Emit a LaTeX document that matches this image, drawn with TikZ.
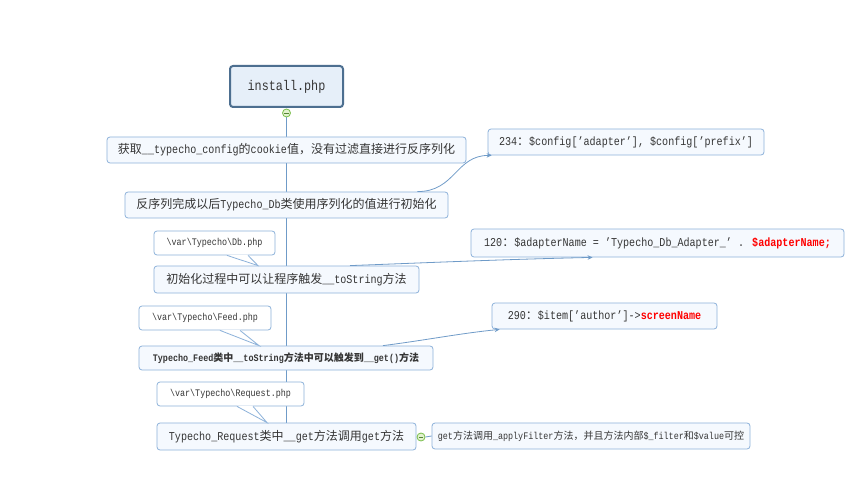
\documentclass[tikz,border=0pt]{standalone}
\usepackage{fontspec}
\setmainfont{Liberation Mono}[FakeStretch=0.84]
\newfontfamily\cjkf{Noto Sans CJK SC}
\newcommand\cj[1]{{\cjkf #1}}
\usetikzlibrary{arrows.meta,backgrounds}
\definecolor{bord}{HTML}{8DB2DA}
\definecolor{boxfill}{HTML}{F5F9FE}
\definecolor{conn}{HTML}{6F9BC8}
\definecolor{txt}{HTML}{353535}
\definecolor{topbord}{HTML}{4D6F90}
\definecolor{topfill}{HTML}{E6EFF9}
\definecolor{gbord}{HTML}{79BE4A}
\definecolor{gfill}{HTML}{E2F2CF}
\definecolor{redt}{HTML}{FF0000}
\tikzset{
  box/.style={draw=bord, fill=boxfill, rounded corners=3pt, line width=0.8pt,
    inner sep=0pt, text=txt, font=\fontsize{12}{14}\selectfont},
  topbox/.style={draw=topbord, fill=topfill, rounded corners=3pt, line width=2pt,
    inner sep=0pt, text=txt, font=\fontsize{14}{16}\selectfont},
  callbox/.style={draw=bord, fill=white, rounded corners=3pt, line width=0.8pt,
    inner sep=0pt, text=txt, font=\fontsize{10}{12}\selectfont},
  connline/.style={draw=conn, line width=0.8pt},
  arr/.style={-{Stealth[length=5pt,width=4.5pt]}},
  gcirc/.style={circle, draw=gbord, fill=gfill, line width=0.8pt, minimum size=8pt, inner sep=0pt},
  pointer/.style={draw=bord, line width=0.8pt, line join=miter},
}
\newcommand\red[1]{\textcolor{redt}{\bfseries #1}}
\begin{document}
\begin{tikzpicture}[x=1pt,y=-1pt]
\useasboundingbox (0,0) rectangle (866,494);

% nodes
\node[topbox, minimum width=113pt, minimum height=41pt] (top) at (286.5,86.5) {install.php};
\node[gcirc] (g1) at (286.5,113) {};

\node[box, minimum width=359pt, minimum height=26pt] (b1) at (286.5,150)
  {\cj{获取}\_\_typecho\_config\cj{的}cookie\cj{值，没有过滤直接进行反序列化}};
\node[box, minimum width=323pt, minimum height=26pt] (b2) at (286.5,205)
  {\cj{反序列完成以后}Typecho\_Db\cj{类使用序列化的值进行初始化}};
\node[box, minimum width=265pt, minimum height=27pt] (b3) at (286.5,279.5)
  {\cj{初始化过程中可以让程序触发}\_\_toString\cj{方法}};
\node[box, minimum width=294pt, minimum height=24pt, font=\fontsize{10}{12}\selectfont\bfseries] (b4) at (286,358)
  {Typecho\_Feed\cj{类中}\_\_toString\cj{方法中可以触发到}\_\_get()\cj{方法}};
\node[box, minimum width=259pt, minimum height=27pt] (b5) at (286.5,436.5)
  {Typecho\_Request\cj{类中}\_\_get\cj{方法调用}get\cj{方法}};

\node[box, minimum width=276pt, minimum height=26pt] (b234) at (626,142)
  {234\cj{：}\$config['adapter'], \$config['prefix']};
\node[box, minimum width=373pt, minimum height=28pt] (b120) at (657.5,243)
  {120\cj{：}\$adapterName = 'Typecho\_Db\_Adapter\_' . \red{\$adapterName;}};
\node[box, minimum width=225pt, minimum height=26pt] (b290) at (604.5,316)
  {290\cj{：}\$item['author']->\red{screenName}};
\node[box, minimum width=318pt, minimum height=26pt, font=\fontsize{10}{12}\selectfont] (b6) at (591,436)
  {get\cj{方法调用}\_applyFilter\cj{方法，并且方法内部}\$\_filter\cj{和}\$value\cj{可控}};
\node[gcirc] (g2) at (421,437) {};

\node[callbox, minimum width=121pt, minimum height=24pt] (cdb) at (214.5,243)
  {\textbackslash var\textbackslash Typecho\textbackslash Db.php};
\node[callbox, minimum width=132pt, minimum height=24pt] (cfeed) at (205,318)
  {\textbackslash var\textbackslash Typecho\textbackslash Feed.php};
\node[callbox, minimum width=147pt, minimum height=24pt] (creq) at (230.5,394)
  {\textbackslash var\textbackslash Typecho\textbackslash Request.php};

% main vertical connector (behind boxes)
\begin{scope}[on background layer]
  \fill[white] (0,0) rectangle (866,494);
  \draw[connline] (g1.south) -- (g1.south |- b5.north);
\end{scope}

% green circle minus signs
\draw[gbord!70!black, line width=0.9pt] ([xshift=-2.2pt]g1.center) -- ([xshift=2.2pt]g1.center);
\draw[gbord!70!black, line width=0.9pt] ([xshift=-2.2pt]g2.center) -- ([xshift=2.2pt]g2.center);

% side connectors
\draw[connline, arr] ([xshift=-31pt]b2.north east) .. controls +(38,0) and +(-36,0) .. ([xshift=4pt]b234.south west);
\draw[connline, arr] ([xshift=63.5pt]b3.north) .. controls +(80,-3) and +(-90,2) .. ([xshift=122pt]b120.south west);
\draw[connline, arr] ([xshift=97pt]b4.north) .. controls +(40,-5) and +(-40,4) .. ([xshift=8pt]b290.south west);
\draw[connline] (g2.east) -- (b6.west);

% callout pointers
\fill[white] ([xshift=12.5pt,yshift=0.9pt]cdb.south) -- ([xshift=-28.5pt]b3.north) -- ([xshift=33.5pt,yshift=0.9pt]cdb.south) -- cycle;
\draw[pointer] ([xshift=12.5pt]cdb.south) -- ([xshift=-28.5pt]b3.north) -- ([xshift=33.5pt]cdb.south);
\fill[white] ([xshift=15pt,yshift=0.9pt]cfeed.south) -- ([xshift=-27pt]b4.north) -- ([xshift=35pt,yshift=0.9pt]cfeed.south) -- cycle;
\draw[pointer] ([xshift=15pt]cfeed.south) -- ([xshift=-27pt]b4.north) -- ([xshift=35pt]cfeed.south);
\fill[white] ([xshift=6.5pt,yshift=0.9pt]creq.south) -- ([xshift=-19.5pt]b5.north) -- ([xshift=22.5pt,yshift=0.9pt]creq.south) -- cycle;
\draw[pointer] ([xshift=6.5pt]creq.south) -- ([xshift=-19.5pt]b5.north) -- ([xshift=22.5pt]creq.south);
\end{tikzpicture}
\end{document}
